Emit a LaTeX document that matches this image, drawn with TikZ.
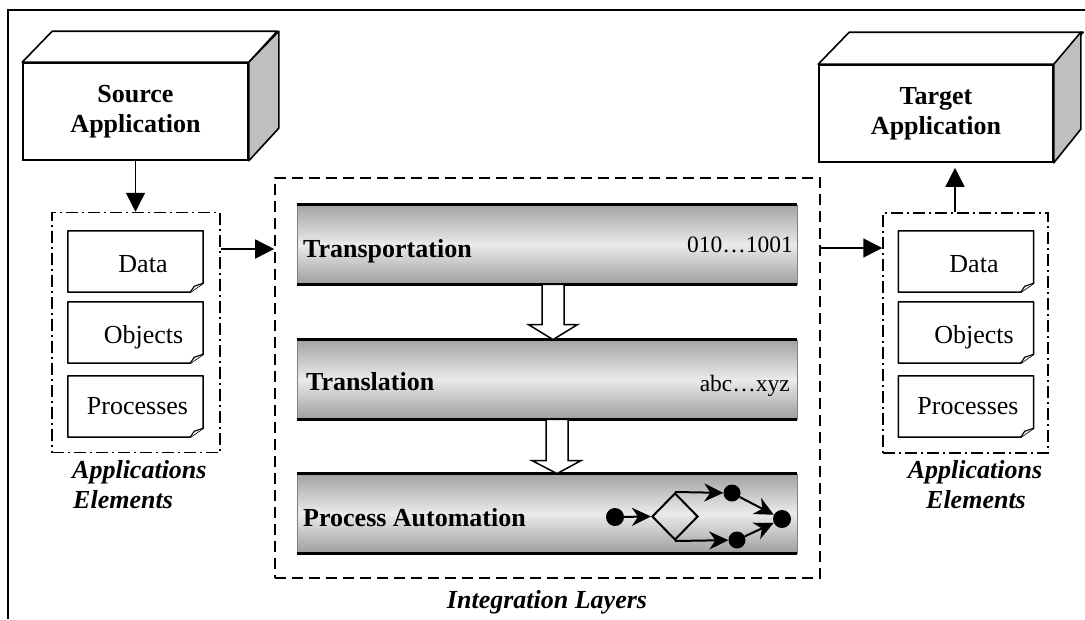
\documentclass[tikz,border=0pt]{standalone}
\usepackage{fontspec}
\setmainfont{Liberation Serif}
\usetikzlibrary{arrows.meta,shapes.geometric,calc}

\tikzset{
  frame/.style={line width=1.5pt},
  appbox/.style={draw, line width=1.6pt, fill=white, minimum width=225pt,
    minimum height=97pt, inner sep=0, align=center,
    font=\fontsize{26}{30}\selectfont\bfseries},
  edge3d/.style={line width=1.6pt, line join=round},
  grpbox/.style={draw, line width=1.5pt, dash pattern=on 12pt off 4pt on 2pt off 4pt,
    minimum width=168pt, minimum height=240pt, inner sep=0},
  intbox/.style={draw, line width=1.6pt, dash pattern=on 11pt off 6pt,
    minimum width=545pt, minimum height=400pt, inner sep=0},
  docbox/.style={minimum width=135pt, minimum height=61pt, inner sep=0},
  docline/.style={line width=1.5pt, fill=white, line join=round},
  doctext/.style={font=\fontsize{26}{30}\selectfont, inner sep=0},
  caption/.style={font=\fontsize{26}{30}\selectfont\bfseries\itshape, inner sep=0},
  layer/.style={minimum width=500pt, minimum height=79pt, inner sep=0,
    top color=black!36, bottom color=black!38, middle color=black!8,
    draw=black!50, line width=0.8pt},
  layerrule/.style={line width=3pt},
  layertitle/.style={font=\fontsize{26}{30}\selectfont\bfseries, inner sep=0},
  layercode/.style={font=\fontsize{23.5}{28}\selectfont, inner sep=0},
  link/.style={line width=1.5pt, -{Triangle[length=19pt,width=19pt]}},
  hollow/.style={draw, line width=1.5pt, fill=white, line join=miter},
  dot/.style={circle, fill=black, inner sep=0, minimum size=17pt},
  flow/.style={line width=2pt, -{Stealth[length=19pt,width=18pt,inset=6pt]}},
  gate/.style={diamond, draw, line width=2pt, minimum width=46pt,
    minimum height=47pt, inner sep=0},
}

\begin{document}
\begin{tikzpicture}[x=1pt,y=-1pt]
\useasboundingbox (0,0) rectangle (1085,619);

% outer frame (top and left edges)
\draw[frame] (1085,10) -- (8,10) -- (8,619);

% ---------- source and target applications ----------
\node[appbox] (src) at (135.5,111.5) {Source\\Application};
\draw[edge3d, fill=white] (src.north west) -- ++(30,-31) -- ++(225,0) -- (src.north east) -- cycle;
\draw[edge3d, fill=black!25] (src.north east) -- ++(30,-31) -- ++(0,97) -- (src.south east) -- cycle;

\node[appbox, minimum width=234pt] (tgt) at (936,113.5) {Target\\Application};
\draw[edge3d, fill=white] (tgt.north west) -- ++(31,-32) -- ++(234,0) -- (tgt.north east) -- cycle;
\draw[edge3d, fill=black!25] (tgt.north east) -- ++(27,-32) -- ++(0,97) -- (tgt.south east) -- cycle;

% ---------- application element groups ----------
\node[grpbox] (lel) at (136,332.5) {};
\node[grpbox, minimum width=165pt] (rel) at (965.5,333) {};

\node[docbox] (ld) at (135.5,261.5) {};
\node[docbox] (lo) at (135.5,332.5) {};
\node[docbox] (lp) at (135.5,406.5) {};
\node[docbox] (rd) at (966,261.5) {};
\node[docbox] (ro) at (966,332.5) {};
\node[docbox] (rp) at (966,406.5) {};

\foreach \n in {ld,lo,lp,rd,ro,rp}{
  \draw[docline] (\n.north west) -- (\n.north east) -- ([yshift=9pt]\n.south east)
    -- ([xshift=-13pt]\n.south east) -- (\n.south west) -- cycle;
  \draw[line width=1.1pt, fill=black!8, line join=round]
    ([xshift=-13pt]\n.south east) -- ([xshift=-9pt,yshift=6pt]\n.south east)
    -- ([yshift=9pt]\n.south east);
}

\node[doctext, anchor=base] (ldt) at ([xshift=7.5pt,yshift=-11pt]ld.center) {Data};
\node[doctext, anchor=base] (lot) at ([xshift=8pt,yshift=-10.5pt]lo.center) {Objects};
\node[doctext, anchor=base] (lpt) at ([xshift=2pt,yshift=-7.5pt]lp.center) {Processes};
\node[doctext, anchor=base] (rdt) at ([xshift=8pt,yshift=-11pt]rd.center) {Data};
\node[doctext, anchor=base] (rot) at ([xshift=8pt,yshift=-10.5pt]ro.center) {Objects};
\node[doctext, anchor=base] (rpt) at ([xshift=2pt,yshift=-7.5pt]rp.center) {Processes};

\node[caption, anchor=base west] (lcap1) at (72,478) {Applications};
\node[caption, anchor=base west] (lcap2) at (73,508) {Elements};
\node[caption, anchor=base] (rcap1) at (975,478) {Applications};
\node[caption, anchor=base] (rcap2) at (976,508) {Elements};

% ---------- integration layers ----------
\node[intbox] (integ) at (547.5,378) {};
\node[caption, anchor=base] (icap) at (547,608) {Integration Layers};

\node[layer] (trans) at (547,244.5) {};
\node[layer] (transl) at (547,379.5) {};
\node[layer] (proc) at (547,513.5) {};
\foreach \b in {trans,transl,proc}{
  \draw[layerrule] (\b.north west) -- (\b.north east);
  \draw[layerrule] (\b.south west) -- (\b.south east);
}

\node[layertitle, anchor=base west] (transt) at (303,257) {Transportation};
\node[layertitle, anchor=base west] (translt) at (306,390) {Translation};
\node[layertitle, anchor=base west] (proct) at (303,526) {Process Automation};
\node[layercode, anchor=base east] (transc) at (793,252) {010\ldots1001};
\node[layercode, anchor=base east] (translc) at (790,391) {abc\ldots xyz};

% hollow arrows between the layers
\draw[hollow] ($(trans.south)+(-5,0)$) -- ($(transl.north)+(-5,-15)$)
  -- ($(transl.north)+(-18.5,-15)$) -- ($(transl.north)+(6,0)$)
  -- ($(transl.north)+(30.5,-15)$) -- ($(transl.north)+(17,-15)$)
  -- ($(trans.south)+(17,0)$) -- cycle;
\draw[hollow] ($(transl.south)+(-1,0)$) -- ($(proc.north)+(-1,-13)$)
  -- ($(proc.north)+(-15,-13)$) -- ($(proc.north)+(10,0)$)
  -- ($(proc.north)+(34,-13)$) -- ($(proc.north)+(21,-13)$)
  -- ($(transl.south)+(21,0)$) -- cycle;

% process flow inside the automation layer
\node[dot, minimum size=18pt] (f0) at (615,517) {};
\node[gate] (fg) at (675,516.5) {};
\node[dot] (f1) at (732,493) {};
\node[dot] (f2) at (737,540) {};
\node[dot, minimum size=18pt] (f3) at (782,519) {};
\draw[flow] (f0) -- (fg.west);
\draw[flow] (fg.north) -- (f1);
\draw[flow] (fg.south) -- (f2);
\draw[flow] (f1) -- (f3);
\draw[flow] (f2) -- (f3);

% ---------- connectors between the blocks ----------
\draw[link] (src.south) -- (src.south |- lel.north);
\coordinate (la) at ([yshift=83.5pt]lel.east);
\draw[link] (la) -- (la -| integ.west);
\coordinate (ra) at ([yshift=130pt]integ.east);
\draw[link] (ra) -- (ra -| rel.west);
\coordinate (ta) at ([xshift=-10.5pt]rel.north);
\draw[link, shorten >=5pt] (ta) -- (ta |- tgt.south);

\end{tikzpicture}
\end{document}
